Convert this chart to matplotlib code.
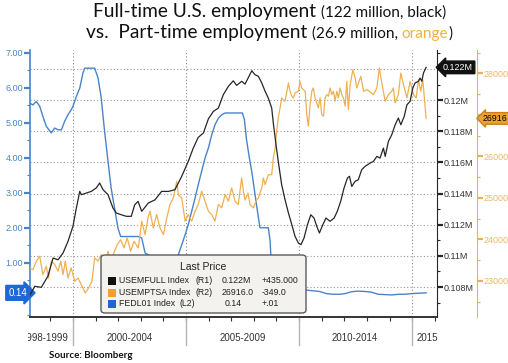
import matplotlib
matplotlib.use("Agg")
import matplotlib.pyplot as plt
from matplotlib.patches import FancyBboxPatch, Rectangle
from matplotlib.ticker import MultipleLocator, FixedLocator, FuncFormatter
from matplotlib.transforms import Bbox, TransformedBbox, blended_transform_factory

W, H = 508, 363

# USEMFULL (full-time employment, thousands)
full_t = [1998.10, 1998.31, 1998.60, 1998.89, 1999.12, 1999.34, 1999.56, 1999.78, 2000.00, 2000.15,
          2000.30, 2000.37, 2000.59, 2000.81, 2001.03, 2001.18, 2001.33, 2001.55, 2001.77, 2001.92,
          2002.14, 2002.36, 2002.58, 2002.73, 2002.88, 2003.04, 2003.33, 2003.63, 2003.92, 2004.22,
          2004.51, 2004.81, 2005.10, 2005.32, 2005.54, 2005.77, 2005.99, 2006.21, 2006.43, 2006.65,
          2006.87, 2007.09, 2007.24, 2007.46, 2007.61, 2007.76, 2007.91, 2008.05, 2008.20, 2008.35,
          2008.50, 2008.64, 2008.79, 2008.86, 2008.98, 2009.08, 2009.23, 2009.38, 2009.53, 2009.68,
          2009.82, 2009.97, 2010.08, 2010.22, 2010.37, 2010.52, 2010.66, 2010.81, 2010.90, 2011.05,
          2011.19, 2011.37, 2011.55, 2011.69, 2011.84, 2011.99, 2012.14, 2012.23, 2012.33, 2012.48,
          2012.62, 2012.77, 2012.92, 2013.14, 2013.29, 2013.44, 2013.58, 2013.73, 2013.81, 2013.95,
          2014.10, 2014.25, 2014.39, 2014.50, 2014.65, 2014.77, 2014.91, 2015.03, 2015.13, 2015.28,
          2015.35, 2015.43, 2015.50, 2015.62]
full_v = [107490, 108045, 107980, 108690, 109860, 109750, 110180, 110930, 111900, 113070,
          114140, 113930, 114035, 114140, 114360, 114680, 114250, 113930, 113070, 112750,
          112640, 112540, 112540, 113280, 113500, 112860, 113390, 113600, 114140, 114140,
          114250, 115110, 116070, 116920, 117610, 117890, 118800, 119280, 119490, 120350,
          120880, 121240, 120950, 121210, 121030, 121460, 121890, 121630, 121530, 121100,
          120560, 120130, 119490, 118530, 117140, 116070, 114570, 113600, 112750, 112000,
          111260, 110820, 110720, 111150, 112000, 112640, 112430, 111790, 111470, 112000,
          112430, 112220, 112430, 112860, 113500, 114360, 115000, 115110, 114460, 114790,
          114890, 115530, 115750, 115960, 116070, 116390, 116280, 116920, 116390, 117350,
          117780, 118420, 118850, 118420, 118960, 119700, 119920, 120780, 121100, 121210,
          121420, 121210, 121740, 122105]

# USEMPTSA (part-time employment, thousands)
part_t = [1998.10, 1998.23, 1998.38, 1998.53, 1998.67, 1998.82, 1998.92, 1999.04, 1999.19, 1999.34,
          1999.46, 1999.56, 1999.66, 1999.78, 1999.92, 2000.08, 2000.22, 2000.37, 2000.54, 2000.69,
          2000.84, 2000.96, 2001.11, 2001.25, 2001.40, 2001.55, 2001.69, 2001.81, 2001.96, 2002.11,
          2002.26, 2002.40, 2002.55, 2002.70, 2002.89, 2003.04, 2003.19, 2003.33, 2003.41, 2003.55,
          2003.70, 2003.85, 2004.00, 2004.15, 2004.29, 2004.44, 2004.59, 2004.66, 2004.81, 2004.96,
          2005.10, 2005.25, 2005.40, 2005.54, 2005.69, 2005.84, 2005.99, 2006.14, 2006.28, 2006.43,
          2006.58, 2006.73, 2006.87, 2007.02, 2007.17, 2007.31, 2007.46, 2007.54, 2007.61, 2007.74,
          2007.83, 2007.98, 2008.10, 2008.20, 2008.35, 2008.42, 2008.50, 2008.64, 2008.79, 2008.86,
          2008.94, 2009.01, 2009.08, 2009.16, 2009.23, 2009.31, 2009.38, 2009.46, 2009.53, 2009.60,
          2009.68, 2009.75, 2009.82, 2009.97, 2010.04, 2010.12, 2010.27, 2010.34, 2010.41, 2010.49,
          2010.56, 2010.63, 2010.71, 2010.85, 2010.93, 2011.00, 2011.08, 2011.15, 2011.23, 2011.30,
          2011.37, 2011.45, 2011.52, 2011.59, 2011.67, 2011.74, 2011.81, 2011.89, 2011.96, 2012.04,
          2012.11, 2012.18, 2012.26, 2012.38, 2012.48, 2012.55, 2012.73, 2012.85, 2013.00, 2013.14,
          2013.29, 2013.44, 2013.55, 2013.66, 2013.81, 2013.95, 2014.10, 2014.17, 2014.25, 2014.39,
          2014.50, 2014.62, 2014.77, 2014.91, 2015.06, 2015.18, 2015.28, 2015.38, 2015.47, 2015.62]
part_v = [23310, 23270, 23475, 23595, 23150, 23355, 23070, 23475, 23395, 23235,
          23475, 23150, 23475, 23070, 23315, 22990, 23070, 22910, 22710, 22830,
          22990, 23555, 23475, 23635, 23395, 23715, 23475, 23675, 23875, 23995,
          23795, 24035, 23715, 23955, 23795, 24440, 24115, 24550, 24680, 24275,
          24600, 24275, 24115, 24520, 24840, 25000, 25400, 25080, 25000, 24440,
          24600, 24440, 24680, 24840, 25160, 24920, 24680, 24600, 24440, 24840,
          24760, 25080, 24920, 25240, 24920, 24840, 25480, 25160, 24950, 25115,
          24840, 24760, 24930, 25000, 25240, 25480, 25320, 25560, 25560, 25960,
          26200, 26610, 26930, 27170, 27410, 27360, 27330, 27570, 27770, 27570,
          27450, 27410, 27530, 27570, 27810, 27650, 27570, 27010, 26730, 27250,
          27570, 27650, 27410, 27170, 27410, 27010, 26970, 27410, 27490, 27450,
          27650, 27490, 27570, 27330, 27570, 27410, 27650, 27490, 27410, 27210,
          27810, 27130, 27730, 28090, 27890, 27650, 27930, 27570, 27610, 27555,
          27490, 27650, 28130, 27770, 27330, 27490, 27570, 27650, 27290, 27490,
          28010, 27730, 27410, 27810, 27490, 27410, 27850, 27570, 27850, 26916]

# FEDL01 (fed funds rate, %)
fed_t = [1998.10, 1998.23, 1998.38, 1998.53, 1998.67, 1998.82, 1999.04, 1999.19, 1999.34, 1999.49,
         1999.63, 1999.78, 1999.92, 2000.00, 2000.15, 2000.30, 2000.44, 2000.52, 2000.96, 2001.11,
         2001.25, 2001.40, 2001.55, 2001.69, 2001.84, 2001.99, 2002.11, 2002.88, 2003.04, 2003.19,
         2003.33, 2003.63, 2004.52, 2004.66, 2004.81, 2004.96, 2005.10, 2005.25, 2005.40, 2005.54,
         2005.69, 2005.84, 2005.99, 2006.14, 2006.28, 2006.43, 2006.58, 2006.73, 2007.49, 2007.58,
         2007.68, 2007.80, 2007.91, 2008.02, 2008.13, 2008.27, 2008.40, 2008.64, 2008.72, 2008.79,
         2008.86, 2008.97, 2009.15, 2009.40, 2009.70, 2010.00, 2010.30, 2010.60, 2010.90, 2011.20,
         2011.50, 2011.80, 2012.05, 2012.30, 2012.60, 2012.90, 2013.20, 2013.50, 2013.80, 2014.10,
         2014.40, 2014.70, 2015.00, 2015.30, 2015.62]
fed_v = [5.56, 5.51, 5.61, 5.47, 5.18, 4.90, 4.71, 4.85, 4.80, 4.80,
         5.04, 5.23, 5.37, 5.47, 5.75, 5.99, 6.42, 6.56, 6.56, 6.28,
         5.71, 4.75, 3.90, 3.13, 2.56, 1.99, 1.75, 1.75, 1.71, 1.28,
         1.23, 1.09, 1.04, 1.23, 1.51, 1.80, 2.09, 2.47, 2.85, 3.23,
         3.61, 3.99, 4.28, 4.66, 4.94, 5.13, 5.23, 5.28, 5.28, 5.10,
         4.50, 4.00, 3.60, 3.10, 2.60, 2.00, 2.00, 2.00, 1.62, 0.70,
         0.30, 0.18, 0.20, 0.22, 0.18, 0.15, 0.22, 0.20, 0.18, 0.12,
         0.10, 0.10, 0.12, 0.17, 0.19, 0.18, 0.16, 0.10, 0.09, 0.08,
         0.10, 0.10, 0.12, 0.13, 0.14]

group_labels = ["1998-1999", "2000-2004", "2005-2009", "2010-2014", "2015"]
group_centers = [1998.74, 2002.5, 2007.5, 2012.48, 2015.66]
group_edges = [2000, 2005, 2010, 2015]
fed_ticks = [0, 1, 2, 3, 4, 5, 6, 7]
full_ticks = [108000, 110000, 112000, 114000, 116000, 118000, 120000, 122000]
part_ticks = [23000, 24000, 25000, 26000, 27000, 28000]
# tick labels hidden under the last-value tags
fed_hidden, full_hidden, part_hidden = 0, 122000, 27000

legend_rows = [
    ("#111111", "USEMFULL Index", "(R1)", "0.122M", "+435.000"),
    ("#f0a030", "USEMPTSA Index", "(R2)", "26916.0", "-349.0"),
    ("#1f66d6", "FEDL01 Index", "(L2)", "0.14", "+.01"),
]

BLUE = "#4a84c8"
ORANGE = "#f0b050"
BLK = "#262626"
TFONT = "Lato"
BFONT = "Liberation Sans"


def fx(px):
    return px / W


def fy(py):
    return 1 - py / H


fig = plt.figure(figsize=(W / 100, H / 100), dpi=100)
ax = fig.add_axes([fx(30), fy(317), (437 - 30) / W, (317 - 50) / H])
ax2 = ax.twinx()   # orange, R2
ax1 = ax.twinx()   # black, R1
R2_POS = (477 - 30) / (437 - 30)

ax.set_xlim(1998.1, 2016.1)
ax.set_ylim(-0.55, 7.08)
ax1.set_ylim(106075, 123220)
ax2.set_ylim(22130, 28565)

# left axis (fed funds)
for s in ["top", "right"]:
    ax.spines[s].set_visible(False)
ax.spines["left"].set_color(BLUE)
ax.spines["left"].set_linewidth(1.2)
ax.spines["bottom"].set_color("#333333")
ax.spines["bottom"].set_linestyle((0, (1.5, 1)))
ax.spines["bottom"].set_linewidth(1.4)
ax.yaxis.set_major_locator(FixedLocator(fed_ticks))
ax.yaxis.set_minor_locator(MultipleLocator(0.5))
ax.yaxis.set_major_formatter(FuncFormatter(lambda v, p: "" if v == fed_hidden else f"{v:.2f}"))
ax.tick_params(axis="y", which="major", colors=BLUE, length=4, width=1.6, labelsize=6.5, pad=1)
ax.tick_params(axis="y", which="minor", colors=BLUE, length=2, width=0.8)
for lab in ax.get_yticklabels():
    lab.set_family(BFONT)
ax.xaxis.set_major_locator(FixedLocator([]))
ax.xaxis.set_minor_locator(MultipleLocator(1))
ax.tick_params(axis="x", which="minor", length=3, width=0.8, colors="#333333")

# right axis R1 (full-time)
for s in ["top", "left", "bottom"]:
    ax1.spines[s].set_visible(False)
ax1.spines["right"].set_color(BLK)
ax1.yaxis.set_major_locator(FixedLocator(full_ticks))
ax1.yaxis.set_minor_locator(MultipleLocator(1000))
ax1.yaxis.set_major_formatter(FuncFormatter(lambda v, p: "" if v == full_hidden else f"{v / 1e6:g}M"))
ax1.tick_params(axis="y", which="major", colors=BLK, labelcolor="#333333", length=4, width=1.6,
                labelsize=6.5, pad=1)
ax1.tick_params(axis="y", which="minor", colors=BLK, length=2, width=0.8)
for lab in ax1.get_yticklabels():
    lab.set_family(BFONT)

# right axis R2 (part-time)
for s in ["top", "left", "bottom"]:
    ax2.spines[s].set_visible(False)
ax2.spines["right"].set_position(("axes", R2_POS))
ax2.spines["right"].set_color(ORANGE)
ax2.yaxis.set_major_locator(FixedLocator(part_ticks))
ax2.yaxis.set_minor_locator(MultipleLocator(500))
ax2.yaxis.set_major_formatter(FuncFormatter(lambda v, p: "" if v == part_hidden else f"{v:.0f}"))
ax2.tick_params(axis="y", which="major", colors=ORANGE, labelcolor="#e8b868", length=4, width=1.6,
                labelsize=6.5, pad=1)
ax2.tick_params(axis="y", which="minor", colors=ORANGE, length=2, width=0.8)
for lab in ax2.get_yticklabels():
    lab.set_family(BFONT)

# grid: horizontal at R1 ticks, vertical at period boundaries
lo, hi = ax1.get_ylim()
for t in full_ticks:
    f = (t - lo) / (hi - lo)
    ax.plot([0, 1], [f, f], transform=ax.transAxes, color="#9a9a9a", lw=0.8,
            ls=(0, (1, 2)), zorder=0.5)
for e in group_edges:
    ax.axvline(e, color="#8a8a8a", lw=0.8, ls=(0, (1, 2)), zorder=0.5)

# series
ax.plot(fed_t, fed_v, color=BLUE, lw=1.0)
ax2.plot(part_t, part_v, color=ORANGE, lw=0.9)
ax1.plot(full_t, full_v, color=BLK, lw=0.9)

# x period separators and labels
bt = blended_transform_factory(ax.transData, ax.transAxes)
for e in group_edges:
    ax.plot([e, e], [0, -0.105], transform=bt, color="#b4b4b4", lw=1.0, clip_on=False)
clip = TransformedBbox(Bbox([[fx(28), 0], [1, 1]]), fig.transFigure)
for c, lab in zip(group_centers, group_labels):
    t = ax.text(c, -0.079, lab, transform=bt, ha="center", va="center", fontsize=7,
                color="#333333", family=BFONT, clip_on=True)
    t.set_clip_box(clip)

# last-value tags
ax.annotate(f"{fed_v[-1]:.2f}", xy=(0, fed_v[-1]), xycoords=ax.get_yaxis_transform(),
            xytext=(-3, 0), textcoords="offset pixels", ha="right", va="center",
            fontsize=7, color="white", family=BFONT, annotation_clip=False, zorder=10,
            bbox=dict(boxstyle="rarrow,pad=0.25", fc="#1f66d6", ec="#1f66d6"))
ax1.annotate(f"{full_v[-1] / 1e6:.3f}M", xy=(1, full_v[-1]), xycoords=ax1.get_yaxis_transform(),
             xytext=(6, 0), textcoords="offset pixels", ha="left", va="center",
             fontsize=6.5, color="white", family=BFONT, annotation_clip=False, zorder=10,
             bbox=dict(boxstyle="larrow,pad=0.2", fc="#111111", ec="#111111"))
ax2.annotate(f"{part_v[-1]:d}", xy=(R2_POS, part_v[-1]), xycoords=ax2.get_yaxis_transform(),
             xytext=(6, 0), textcoords="offset pixels", ha="left", va="center",
             fontsize=6.3, color="black", family=BFONT, annotation_clip=False, zorder=10,
             bbox=dict(boxstyle="larrow,pad=0.15", fc="#f0a030", ec="#c88020"))

# legend box
fig.add_artist(FancyBboxPatch((fx(101), fy(313)), fx(306) - fx(101), fy(255) - fy(313),
                              boxstyle="round,pad=0,rounding_size=0.008",
                              transform=fig.transFigure, fc="#f3f2ee", ec="#5a5a5a", lw=1.0))
fig.text(fx(203), fy(267), "Last Price", ha="center", va="center", fontsize=7.5,
         color="#222222", family=BFONT)
row_y = [280.7, 292.7, 304]
for (col, name, ref, val, chg), ry in zip(legend_rows, row_y):
    fig.add_artist(Rectangle((fx(107.5), fy(ry + 4)), fx(8), fy(0) - fy(8),
                             transform=fig.transFigure, fc=col, ec="none"))
    fig.text(fx(119), fy(ry), name, ha="left", va="center", fontsize=6.3, color="#222222", family=BFONT)
    fig.text(fx(196 if ref != "(L2)" else 180), fy(ry), ref, ha="left", va="center",
             fontsize=6.3, color="#222222", family=BFONT)
    fig.text(fx(221.7 if ref != "(L2)" else 225), fy(ry), val, ha="left", va="center",
             fontsize=6.3, color="#222222", family=BFONT)
    fig.text(fx(261.7), fy(ry), chg, ha="left", va="center", fontsize=6.3, color="#222222", family=BFONT)


# title with mixed sizes/colours
def rich_line(parts, base_py, center_px):
    r = fig.canvas.get_renderer()
    texts = []
    for s, size, color in parts:
        texts.append(fig.text(0, fy(base_py), s, fontsize=size, color=color, family=TFONT,
                              va="baseline", ha="left"))
    widths = [t.get_window_extent(r).width for t in texts]
    x = center_px - sum(widths) / 2
    for t, w in zip(texts, widths):
        t.set_x(fx(x))
        x += w


rich_line([("Full-time U.S. employment\u00a0", 13.8, "#111111"),
           ("(122 million, black)", 11, "#111111")], 17, 270)
rich_line([("vs.\u00a0\u00a0Part-time employment\u00a0", 13.8, "#111111"),
           ("(26.9 million,\u00a0", 11, "#111111"),
           ("orange", 11, "#f2b23a"),
           (")", 11, "#111111")], 38, 269)

fig.text(fx(49), fy(355), "Source: Bloomberg", ha="left", va="center", fontsize=7,
         fontweight="bold", color="#111111", family=TFONT)

fig.savefig("out.png", dpi=100)
